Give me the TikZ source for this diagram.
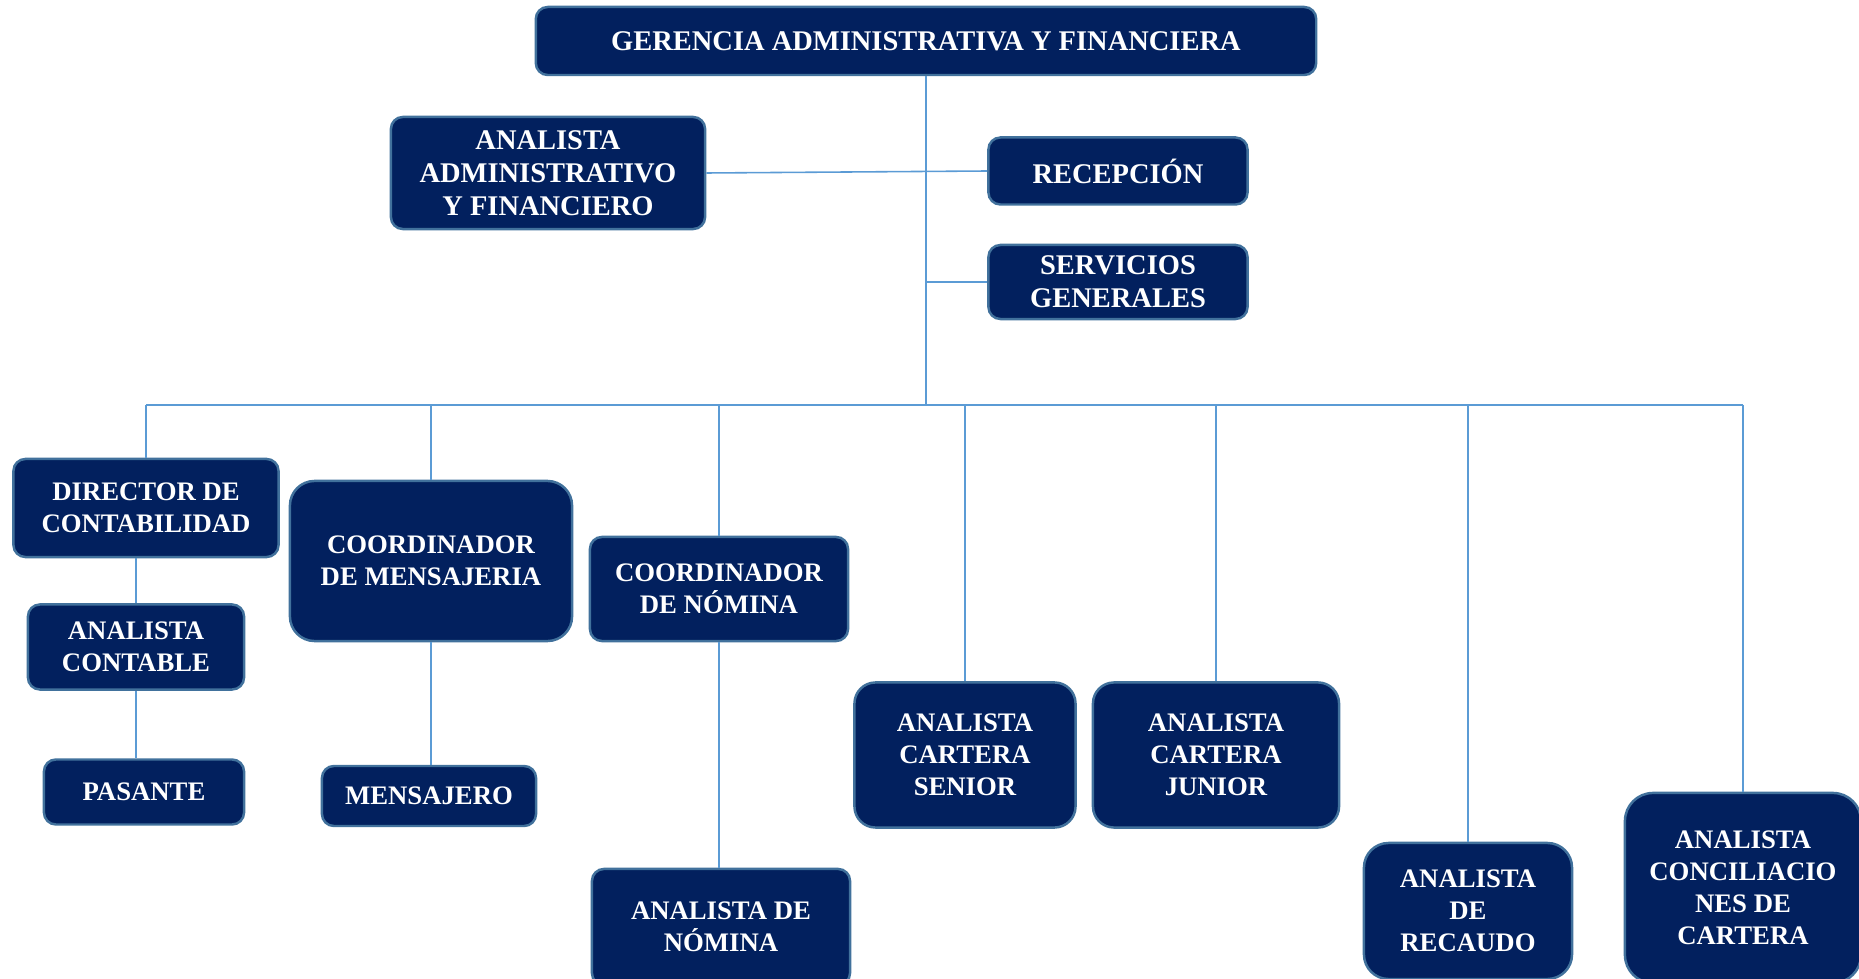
\documentclass[tikz,border=0pt]{standalone}
\usepackage{fontspec}
\setmainfont{Liberation Serif}
\definecolor{navy}{HTML}{02205E}
\definecolor{edge}{HTML}{41719C}
\definecolor{link}{HTML}{5B9BD5}
\tikzset{
  cargo/.style={draw=edge, fill=navy, text=white, line width=0.7pt,
    rounded corners=3.4pt, align=center, inner sep=0pt,
    font=\fontsize{7.6}{9.1}\selectfont\bfseries},
  cargoalto/.style={cargo, font=\fontsize{8.1}{9.4}\selectfont\bfseries},
  enlace/.style={draw=link, line width=0.45pt}
}
\begin{document}
\begin{tikzpicture}[x=0.01cm, y=-0.01cm]
      \useasboundingbox (0,0) rectangle (1859,979);
      \coordinate (bus) at (926,405);
      % top level
      \node[cargoalto, minimum width=7.80cm, minimum height=0.68cm] (gerencia) at (926,41)
        {GERENCIA ADMINISTRATIVA Y FINANCIERA};
      \node[cargoalto, minimum width=3.14cm, minimum height=1.12cm] (analistaadm) at (548,173)
        {ANALISTA\\ADMINISTRATIVO\\Y FINANCIERO};
      \node[cargoalto, minimum width=2.59cm, minimum height=0.67cm] (recepcion) at (1118,171)
        {RECEPCIÓN};
      \node[cargoalto, minimum width=2.59cm, minimum height=0.74cm] (servicios) at (1118,282)
        {SERVICIOS\\GENERALES};
      % second level
      \node[cargo, minimum width=2.65cm, minimum height=0.98cm] (director) at (146,508)
        {DIRECTOR DE\\CONTABILIDAD};
      \node[cargo, minimum width=2.16cm, minimum height=0.85cm] (contable) at (136,647)
        {ANALISTA\\CONTABLE};
      \node[cargo, minimum width=2.00cm, minimum height=0.65cm] (pasante) at (144,792)
        {PASANTE};
      \node[cargo, rounded corners=7pt, minimum width=2.82cm, minimum height=1.60cm] (coordmens) at (431,561)
        {COORDINADOR\\DE MENSAJERIA};
      \node[cargo, minimum width=2.14cm, minimum height=0.60cm] (mensajero) at (429,796)
        {MENSAJERO};
      \node[cargo, minimum width=2.58cm, minimum height=1.04cm] (coordnom) at (719,589)
        {COORDINADOR\\DE NÓMINA};
      \node[cargo, minimum width=2.58cm, minimum height=1.16cm] (analnom) at (721,927)
        {ANALISTA DE\\NÓMINA};
      \node[cargo, rounded corners=6pt, minimum width=2.21cm, minimum height=1.45cm] (senior) at (965,755)
        {ANALISTA\\CARTERA\\SENIOR};
      \node[cargo, rounded corners=6pt, minimum width=2.46cm, minimum height=1.45cm] (junior) at (1216,755)
        {ANALISTA\\CARTERA\\JUNIOR};
      \node[cargo, rounded corners=7pt, minimum width=2.08cm, minimum height=1.36cm] (recaudo) at (1468,911)
        {ANALISTA\\DE\\RECAUDO};
      \node[cargo, rounded corners=8pt, minimum width=2.36cm, minimum height=1.90cm] (concil) at (1743,888)
        {ANALISTA\\CONCILIACIO\\NES DE\\CARTERA};
      \begin{scope}[enlace]
        \draw (gerencia.south) to (gerencia.south |- bus);
        \draw (analistaadm.east) to (recepcion.west);
        \draw (servicios.west) to (servicios.west -| gerencia.south);
        \draw (director.north |- bus) to (concil.north |- bus);
        \draw (director.north |- bus) to (director.north);
        \draw (coordmens.north |- bus) to (coordmens.north);
        \draw (coordnom.north |- bus) to (coordnom.north);
        \draw (senior.north |- bus) to (senior.north);
        \draw (junior.north |- bus) to (junior.north);
        \draw (recaudo.north |- bus) to (recaudo.north);
        \draw (concil.north |- bus) to (concil.north);
        \draw (contable.north |- director.south) to (contable.north);
        \draw (contable.south) to (contable.south |- pasante.north);
        \draw (coordmens.south) to (coordmens.south |- mensajero.north);
        \draw (coordnom.south) to (coordnom.south |- analnom.north);
      \end{scope}
    \end{tikzpicture}
\end{document}
